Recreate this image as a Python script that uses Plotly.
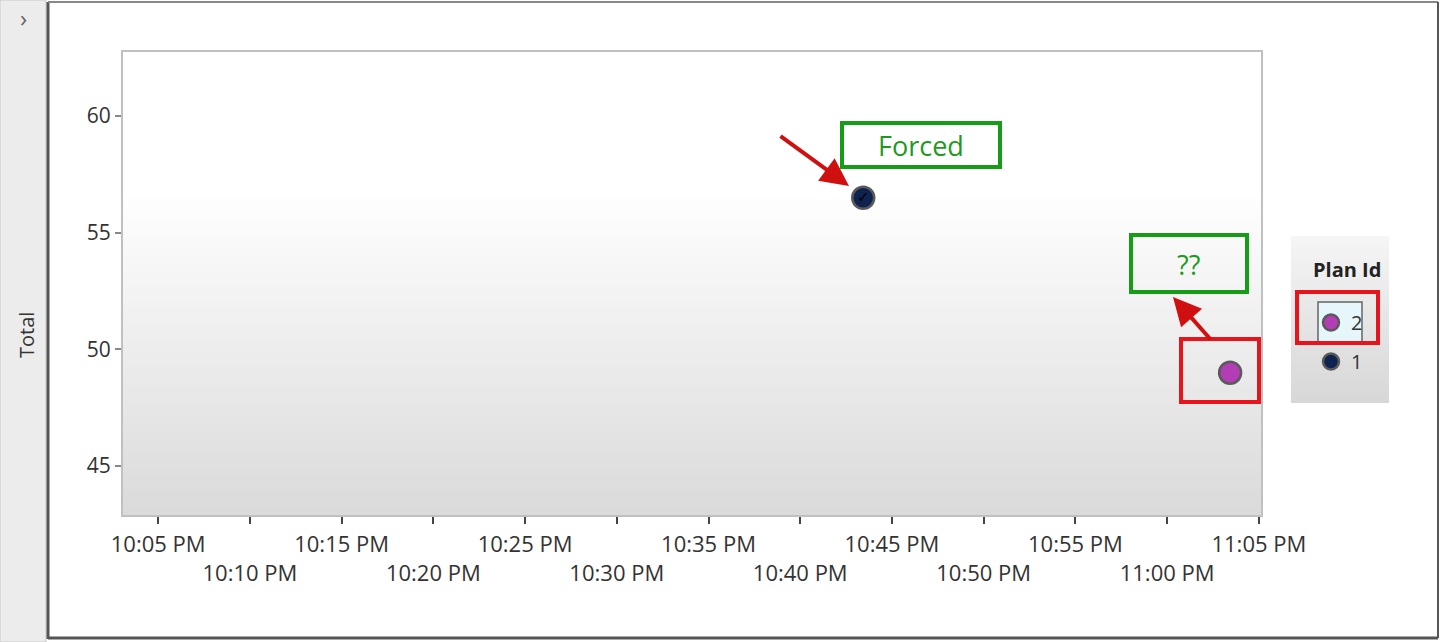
import plotly.graph_objects as go

# ---- data ----
plan_ids = ["2", "1"]
plan_times = ["2020-01-01 23:03:26", "2020-01-01 22:43:26"]
plan_totals = [49.0, 56.5]
plan_colors = ["#b23db4", "#0f2350"]
plan_marks = ["", "✓"]

x_tick_vals = ["2020-01-01 22:05", "2020-01-01 22:10", "2020-01-01 22:15", "2020-01-01 22:20",
               "2020-01-01 22:25", "2020-01-01 22:30", "2020-01-01 22:35", "2020-01-01 22:40",
               "2020-01-01 22:45", "2020-01-01 22:50", "2020-01-01 22:55", "2020-01-01 23:00",
               "2020-01-01 23:05"]
x_tick_labels = ["10:05 PM", "10:10 PM", "10:15 PM", "10:20 PM", "10:25 PM", "10:30 PM", "10:35 PM",
                 "10:40 PM", "10:45 PM", "10:50 PM", "10:55 PM", "11:00 PM", "11:05 PM"]
y_ticks = [45, 50, 55, 60]

x_range = ["2020-01-01 22:03:05", "2020-01-01 23:05:07"]
y_range = [42.9, 62.75]

FONT = "Open Sans"
fig = go.Figure()

for pid, t, v, c, m in zip(plan_ids, plan_times, plan_totals, plan_colors, plan_marks):
    fig.add_trace(go.Scatter(
        x=[t], y=[v], name=pid, legendgroup="g" + pid,
        mode="markers+text" if m else "markers",
        text=[m] if m else None,
        textposition="middle center",
        textfont=dict(family="DejaVu Sans", size=15, color="#000000"),
        marker=dict(size=22, color=c, line=dict(color="#5a5a5a", width=2.5)),
        showlegend=True,
    ))

# staggered tick labels: every other label on a second line
staggered = [lab if i % 2 == 0 else "<br>" + lab for i, lab in enumerate(x_tick_labels)]

def px_to_paper_x(px):
    return (px - 123) / (1261 - 123)
def px_to_paper_y(py):
    return (515 - py) / (515 - 52)

shapes = []
# sidebar
shapes.append(dict(type="rect", xref="paper", yref="paper",
                   x0=px_to_paper_x(0), x1=px_to_paper_x(46), y0=px_to_paper_y(642), y1=px_to_paper_y(0),
                   fillcolor="#ececec", line=dict(color="#c8c8c8", width=1), layer="below"))
# gradient background of plot area (each band runs to the top; later bands cover earlier ones)
N = 80
for i in range(N):
    f0 = i / N
    fm = (i + 0.5) / N
    if fm >= 0.70:
        g = 255
    else:
        g = int(round(218 + (255 - 218) * (fm / 0.70)))
    shapes.append(dict(type="rect", xref="x domain", yref="y domain", x0=0, x1=1, y0=f0, y1=1,
                       fillcolor=f"rgb({g},{g},{g})", line=dict(width=0), layer="below"))
# legend panel background gradient (drawn bottom-up, each band reaching the panel top)
LN = 40
lx0, lx1 = 1291, 1389
ly0, ly1 = 236, 403
for i in reversed(range(LN)):
    a1 = ly0 + (ly1 - ly0) * (i + 1) / LN
    fm = (i + 0.5) / LN
    g = int(round(245 - (245 - 215) * fm))
    shapes.append(dict(type="rect", xref="paper", yref="paper",
                       x0=px_to_paper_x(lx0), x1=px_to_paper_x(lx1),
                       y0=px_to_paper_y(a1), y1=px_to_paper_y(ly0),
                       fillcolor=f"rgb({g},{g},{g})", line=dict(width=0), layer="below"))
# legend selected item highlight
shapes.append(dict(type="rect", xref="paper", yref="paper",
                   x0=px_to_paper_x(1318), x1=px_to_paper_x(1362),
                   y0=px_to_paper_y(342), y1=px_to_paper_y(302),
                   fillcolor="#e6f7fb", line=dict(color="#666666", width=1.5), layer="below"))
# outer frame border lines
shapes.append(dict(type="line", xref="paper", yref="paper", x0=px_to_paper_x(48), x1=px_to_paper_x(48),
                   y0=px_to_paper_y(2), y1=px_to_paper_y(639), line=dict(color="#555555", width=3), layer="below"))
shapes.append(dict(type="line", xref="paper", yref="paper", x0=px_to_paper_x(48), x1=px_to_paper_x(1438),
                   y0=px_to_paper_y(2), y1=px_to_paper_y(2), line=dict(color="#888888", width=2), layer="below"))
shapes.append(dict(type="line", xref="paper", yref="paper", x0=px_to_paper_x(48), x1=px_to_paper_x(1438),
                   y0=px_to_paper_y(638), y1=px_to_paper_y(638), line=dict(color="#555555", width=3), layer="below"))
shapes.append(dict(type="line", xref="paper", yref="paper", x0=px_to_paper_x(1438), x1=px_to_paper_x(1438),
                   y0=px_to_paper_y(2), y1=px_to_paper_y(638), line=dict(color="#555555", width=2), layer="below"))
# green callout boxes
shapes.append(dict(type="rect", xref="paper", yref="paper",
                   x0=px_to_paper_x(842), x1=px_to_paper_x(1000),
                   y0=px_to_paper_y(167), y1=px_to_paper_y(123),
                   fillcolor="#ffffff", line=dict(color="#169c16", width=4)))
shapes.append(dict(type="rect", xref="paper", yref="paper",
                   x0=px_to_paper_x(1131), x1=px_to_paper_x(1247),
                   y0=px_to_paper_y(292), y1=px_to_paper_y(235),
                   fillcolor="rgba(0,0,0,0)", line=dict(color="#169c16", width=4)))
# red highlight boxes
shapes.append(dict(type="rect", xref="paper", yref="paper",
                   x0=px_to_paper_x(1181), x1=px_to_paper_x(1259),
                   y0=px_to_paper_y(402), y1=px_to_paper_y(339),
                   line=dict(color="#e8141c", width=4)))
shapes.append(dict(type="rect", xref="paper", yref="paper",
                   x0=px_to_paper_x(1297), x1=px_to_paper_x(1378),
                   y0=px_to_paper_y(343), y1=px_to_paper_y(292),
                   line=dict(color="#e8141c", width=4)))

annotations = [
    dict(text="Forced", xref="paper", yref="paper", x=px_to_paper_x(921), y=px_to_paper_y(145),
         xanchor="center", yanchor="middle",
         showarrow=False, font=dict(family=FONT, size=27, color="#1e9b1e")),
    dict(text="??", xref="paper", yref="paper", x=px_to_paper_x(1188), y=px_to_paper_y(264),
         xanchor="center", yanchor="middle",
         showarrow=False, font=dict(family=FONT, size=27, color="#1e9b1e")),
    # red arrows
    dict(text="", xref="paper", yref="paper", axref="pixel", ayref="pixel",
         x=px_to_paper_x(849), y=px_to_paper_y(186), ax=-70, ay=-51,
         showarrow=True, arrowhead=2, arrowsize=1.4, arrowwidth=4, arrowcolor="#d01010"),
    dict(text="", xref="paper", yref="paper", axref="pixel", ayref="pixel",
         x=px_to_paper_x(1173), y=px_to_paper_y(297), ax=39, ay=44,
         showarrow=True, arrowhead=2, arrowsize=1.4, arrowwidth=4, arrowcolor="#d01010"),
    dict(text="›", xref="paper", yref="paper", x=px_to_paper_x(23), y=px_to_paper_y(17),
         xanchor="center", yanchor="middle",
         showarrow=False, font=dict(family=FONT, size=24, color="#666666")),
    dict(text="Total", xref="paper", yref="paper", x=px_to_paper_x(27), y=px_to_paper_y(335),
         xanchor="center", yanchor="middle",
         showarrow=False, textangle=-90, font=dict(family=FONT, size=20, color="#333333")),
]

fig.update_layout(
    width=1440, height=642,
    margin=dict(l=123, r=179, t=52, b=127),
    paper_bgcolor="#ffffff",
    plot_bgcolor="rgba(0,0,0,0)",
    font=dict(family=FONT, size=21, color="#333333"),
    shapes=shapes,
    annotations=annotations,
    showlegend=True,
    legend=dict(
        x=px_to_paper_x(1311), y=px_to_paper_y(251), xanchor="left", yanchor="top",
        bgcolor="rgba(0,0,0,0)",
        title=dict(text="<b>Plan Id</b><br> ", font=dict(family=FONT, size=20, color="#222222"), side="top"),
        font=dict(family=FONT, size=20, color="#333333"),
        itemsizing="trace",
        traceorder="grouped",
        tracegroupgap=10,
    ),
    xaxis=dict(
        type="date", range=x_range,
        tickvals=x_tick_vals, ticktext=staggered, tickangle=0, automargin=False,
        ticks="outside", ticklen=7, tickwidth=2, tickcolor="#444444",
        ticklabelstandoff=2,
        showgrid=False, zeroline=False,
        showline=True, linecolor="#c0c0c0", linewidth=2, mirror=True,
        tickfont=dict(family=FONT, size=22, color="#333333"),
    ),
    yaxis=dict(
        range=y_range, tickvals=y_ticks, automargin=False,
        ticks="outside", ticklen=6, tickwidth=2, tickcolor="#888888",
        showgrid=False, zeroline=False,
        showline=True, linecolor="#c0c0c0", linewidth=2, mirror=True,
        tickfont=dict(family=FONT, size=21, color="#333333"),
    ),
)

fig.write_html("out.html", config={"displayModeBar": False},
               post_script="document.body.style.margin='0';")
